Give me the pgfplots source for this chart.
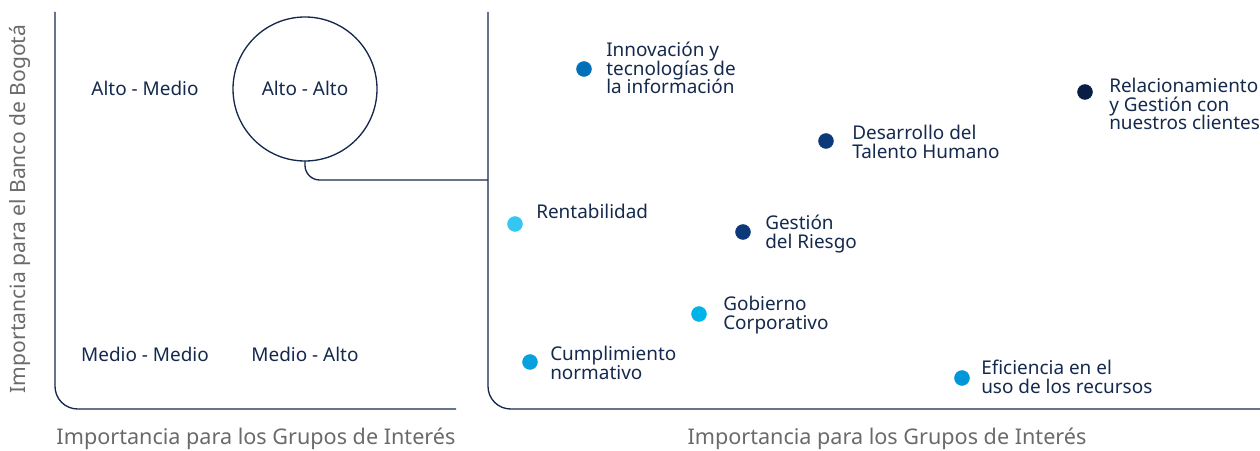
\documentclass[border=0pt]{standalone}
\usepackage{pgfplots}
\pgfplotsset{compat=1.18}
\usepackage{fontspec}
\setmainfont{Noto Sans}
\definecolor{navy}{HTML}{14294D}
\definecolor{lab}{HTML}{6A6A6A}
\definecolor{cA}{HTML}{0071B9}
\definecolor{cB}{HTML}{0A1E45}
\definecolor{cC}{HTML}{0C3978}
\definecolor{cD}{HTML}{36C6F2}
\definecolor{cE}{HTML}{00B4EA}
\definecolor{cF}{HTML}{08A1E0}
\definecolor{cG}{HTML}{0096DA}
\newcommand\lblfont{\fontsize{14.2}{13.9}\selectfont\lineskiplimit=-10pt\relax\lineskip=0pt\relax}
\tikzset{lbl/.style={font=\lblfont, text=navy, inner sep=0pt},
         ttl/.style={font=\fontsize{16.2}{18}\selectfont, text=lab, inner sep=0pt}}
\begin{document}
\begin{tikzpicture}
\useasboundingbox (0,0) rectangle (945pt,337.5pt);
\begin{axis}[
  x=0.75pt, y=0.75pt,
  xmin=0, xmax=1260, ymin=0, ymax=450,
  hide axis, clip=false,
]
% frames
\draw[navy, line width=1pt, rounded corners=17pt] (axis cs:55,438) -- (axis cs:55,41) -- (axis cs:456,41);
\draw[navy, line width=1pt, rounded corners=17pt] (axis cs:488,438) -- (axis cs:488,41) -- (axis cs:1262,41);
\draw[navy, line width=1pt] (axis cs:305,361) circle[radius=54pt];
\draw[navy, line width=1pt, rounded corners=11pt] (axis cs:305,289) -- (axis cs:305,270) -- (axis cs:488,270);
% quadrant labels
\node[lbl] at (axis cs:145,362) {Alto - Medio};
\node[lbl] at (axis cs:305,362) {Alto - Alto};
\node[lbl] at (axis cs:145,96) {Medio - Medio};
\node[lbl] at (axis cs:305,96) {Medio - Alto};
% axis titles
\node[ttl] at (axis cs:256,11) {Importancia para los Grupos de Interés};
\node[ttl] at (axis cs:887,11) {Importancia para los Grupos de Interés};
\node[ttl, font=\fontsize{15.8}{17}\selectfont, rotate=90] at (axis cs:20,241) {Importancia para el Banco de Bogotá};
% points
\addplot[only marks, mark=*, mark size=5.6pt, cA] coordinates {(584,381)};
\addplot[only marks, mark=*, mark size=5.6pt, cB] coordinates {(1085,358)};
\addplot[only marks, mark=*, mark size=5.6pt, cC] coordinates {(826,309)};
\addplot[only marks, mark=*, mark size=5.6pt, cD] coordinates {(515,226)};
\addplot[only marks, mark=*, mark size=5.6pt, cC] coordinates {(743,218)};
\addplot[only marks, mark=*, mark size=5.6pt, cE] coordinates {(699,136)};
\addplot[only marks, mark=*, mark size=5.6pt, cF] coordinates {(530,88)};
\addplot[only marks, mark=*, mark size=5.6pt, cG] coordinates {(962,72)};
% point labels
\node[lbl, anchor=west, align=left] at (axis cs:606,382) {Innovación y\\tecnologías de\\la información};
\node[lbl, anchor=west, align=left] at (axis cs:1109,346) {Relacionamiento\\y Gestión con\\nuestros clientes};
\node[lbl, anchor=west, align=left] at (axis cs:852,308) {Desarrollo del\\Talento Humano};
\node[lbl, anchor=west, align=left] at (axis cs:536,239) {Rentabilidad};
\node[lbl, anchor=west, align=left] at (axis cs:765,216) {Gestión\\del Riesgo};
\node[lbl, anchor=west, align=left] at (axis cs:723,135) {Gobierno\\Corporativo};
\node[lbl, anchor=west, align=left] at (axis cs:550,87) {Cumplimiento\\normativo};
\node[lbl, anchor=west, align=left] at (axis cs:981,73) {Eficiencia en el\\uso de los recursos};
\end{axis}
\end{tikzpicture}
\end{document}
